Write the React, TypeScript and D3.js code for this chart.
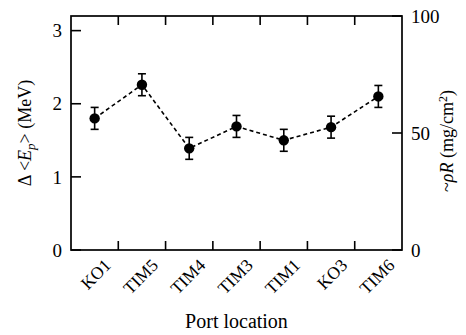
import React from "react";
import * as d3 from "d3";

const categories = ["KO1", "TIM5", "TIM4", "TIM3", "TIM1", "KO3", "TIM6"];
const values = [1.8, 2.26, 1.39, 1.69, 1.5, 1.68, 2.1];
const errors = [0.15, 0.15, 0.15, 0.15, 0.15, 0.15, 0.15];
const leftTicks = [0, 1, 2, 3];
const rightTicks = [0, 50, 100];

export default function App() {
  const W = 466, H = 335;
  const L = 71, R = 402, T = 16, B = 250;
  const x = d3.scaleBand().domain(categories).range([L, R]).padding(0);
  const y = d3.scaleLinear().domain([0, 3.2]).range([B, T]);
  const y2 = d3.scaleLinear().domain([0, 100]).range([B, T]);
  const cx = (c: string) => (x(c) as number) + x.bandwidth() / 2;
  const line = d3.line<number>().x((_, i) => cx(categories[i])).y((v) => y(v));
  const boundaries = categories.slice(1).map((c) => x(c) as number);
  const font = "'Liberation Serif', 'Times New Roman', serif";
  return (
    <svg width={W} height={H} style={{ position: "absolute", left: 0, top: 0 }} fontFamily={font}>
      <rect x={0} y={0} width={W} height={H} fill="#fff" />
      <path d={line(values) as string} fill="none" stroke="#000" strokeWidth={1.6} strokeDasharray="4,3" />
      {values.map((v, i) => {
        const px = cx(categories[i]);
        return (
          <g key={i}>
            <line x1={px} x2={px} y1={y(v - errors[i])} y2={y(v + errors[i])} stroke="#000" strokeWidth={1.6} />
            <line x1={px - 4} x2={px + 4} y1={y(v - errors[i])} y2={y(v - errors[i])} stroke="#000" strokeWidth={1.6} />
            <line x1={px - 4} x2={px + 4} y1={y(v + errors[i])} y2={y(v + errors[i])} stroke="#000" strokeWidth={1.6} />
            <circle cx={px} cy={y(v)} r={5.2} fill="#000" />
          </g>
        );
      })}
      <rect x={L} y={T} width={R - L} height={B - T} fill="none" stroke="#000" strokeWidth={1.7} />
      {leftTicks.map((t) => (
        <g key={"l" + t}>
          <line x1={L} x2={L + 10} y1={y(t)} y2={y(t)} stroke="#000" strokeWidth={1.6} />
          <text x={L - 9} y={y(t)} dy="0.35em" textAnchor="end" fontSize={19}>{t}</text>
        </g>
      ))}
      {rightTicks.map((t) => (
        <g key={"r" + t}>
          <line x1={R} x2={R - 10} y1={y2(t)} y2={y2(t)} stroke="#000" strokeWidth={1.6} />
          <text x={R + 9} y={y2(t)} dy="0.35em" textAnchor="start" fontSize={19}>{t}</text>
        </g>
      ))}
      {boundaries.map((b, i) => (
        <g key={"b" + i}>
          <line x1={b} x2={b} y1={B} y2={B - 9} stroke="#000" strokeWidth={1.6} />
          <line x1={b} x2={b} y1={T} y2={T + 9} stroke="#000" strokeWidth={1.6} />
        </g>
      ))}
      {categories.map((c) => (
        <text key={c} transform={`translate(${cx(c) + 13},${B + 12}) rotate(-45)`} textAnchor="end" dy="0.35em" fontSize={17.5}>{c}</text>
      ))}
      <text x={(L + R) / 2} y={328} textAnchor="middle" fontSize={20}>Port location</text>
      <text transform={`translate(31,${(T + B) / 2}) rotate(-90)`} textAnchor="middle" fontSize={18}>
        Δ &lt;<tspan fontStyle="italic">E</tspan><tspan fontStyle="italic" fontSize={13} dy={4}>p</tspan><tspan dy={-4}>&gt; (MeV)</tspan>
      </text>
      <text transform={`translate(453,${(T + B) / 2 + 8}) rotate(-90)`} textAnchor="middle" fontSize={18}>
        ~<tspan fontStyle="italic">ρR</tspan> (mg/cm<tspan fontSize={12} dy={-6}>2</tspan><tspan dy={6}>)</tspan>
      </text>
    </svg>
  );
}
